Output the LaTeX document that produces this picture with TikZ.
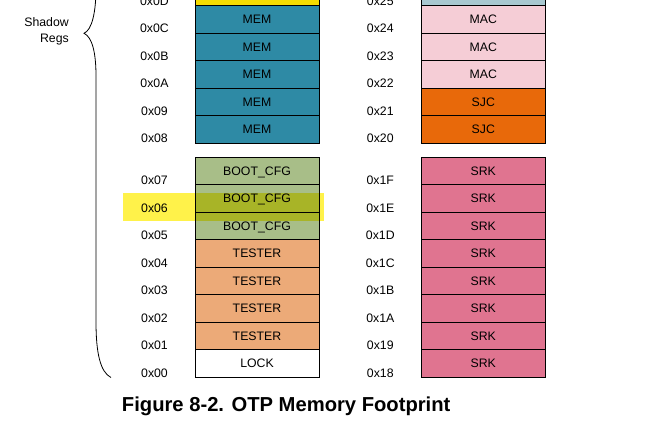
\documentclass[tikz,border=0pt]{standalone}
\usepackage{fontspec}
\setmainfont{Liberation Sans}
\definecolor{topy}{HTML}{F5DC00}
\definecolor{memc}{HTML}{2E8AA5}
\definecolor{topb}{HTML}{A8C8D0}
\definecolor{macc}{HTML}{F5CDD6}
\definecolor{sjcc}{HTML}{E8690A}
\definecolor{srkc}{HTML}{E07490}
\definecolor{bootc}{HTML}{A8BE88}
\definecolor{testc}{HTML}{ECAA78}
\definecolor{hlc}{HTML}{FFF24A}
\begin{document}
\begin{tikzpicture}[x=1pt,y=-1pt,
  every node/.style={font=\fontsize{12.3}{15}\selectfont},
  cell/.style={draw=black, line width=0.8pt, minimum width=124pt, minimum height=27.5pt, inner sep=0pt, text height=8.8pt, text depth=0pt},
  addr/.style={inner sep=0pt},
  bracestyle/.style={draw=black, line width=0.8pt}]
\useasboundingbox (0,0) rectangle (650,423);
\begin{scope}
\clip (0,0) rectangle (650,423);
% left column, upper block
\foreach \n/\t/\c [count=\k from 0] in {0D//topy, 0C/MEM/memc, 0B/MEM/memc, 0A/MEM/memc, 09/MEM/memc, 08/MEM/memc} {
  \node[cell, fill=\c] (L\n) at (257,{-8.25+27.5*\k}) {\t};
  \node[addr] (a\n) at (154.5,{1.2+27.5*\k}) {0x\n};
}
% left column, lower block
\foreach \n/\t/\c [count=\k from 0] in {07/BOOT\_CFG/bootc, 06/BOOT\_CFG/bootc, 05/BOOT\_CFG/bootc, 04/TESTER/testc, 03/TESTER/testc, 02/TESTER/testc, 01/TESTER/testc, 00/LOCK/white} {
  \node[cell, fill=\c] (L\n) at (257,{171.05+27.5*\k}) {\t};
  \node[addr] (a\n) at (154.5,{180.5+27.5*\k}) {0x\n};
}
% right column, upper block
\foreach \n/\t/\c [count=\k from 0] in {25//topb, 24/MAC/macc, 23/MAC/macc, 22/MAC/macc, 21/SJC/sjcc, 20/SJC/sjcc} {
  \node[cell, fill=\c] (R\n) at (483.3,{-8.25+27.5*\k}) {\t};
  \node[addr] (b\n) at (380.3,{1.2+27.5*\k}) {0x\n};
}
% right column, lower block
\foreach \n/\t/\c [count=\k from 0] in {1F/SRK/srkc, 1E/SRK/srkc, 1D/SRK/srkc, 1C/SRK/srkc, 1B/SRK/srkc, 1A/SRK/srkc, 19/SRK/srkc, 18/SRK/srkc} {
  \node[cell, fill=\c] (R\n) at (483.3,{171.05+27.5*\k}) {\t};
  \node[addr] (b\n) at (380.3,{180.5+27.5*\k}) {0x\n};
}
% highlight
\fill[hlc, blend mode=multiply] (123,192.7) rectangle (324,220.7);
% brace
\draw[bracestyle] (96,-12) .. controls (96,12) and (92,30) .. (84,33.3)
  .. controls (92,37) and (96,52) .. (96,76) -- (96,322)
  .. controls (96,352) and (100,372) .. (111,377.5);
\end{scope}
\node[addr, anchor=base east] (sh) at (69,26) {Shadow};
\node[addr, anchor=base east] (rg) at (69,42) {Regs};
\node[addr, anchor=base, font=\bfseries\fontsize{20.2}{22}\selectfont] (title) at (286.2,411) {Figure 8-2. OTP Memory Footprint};
\end{tikzpicture}
\end{document}
